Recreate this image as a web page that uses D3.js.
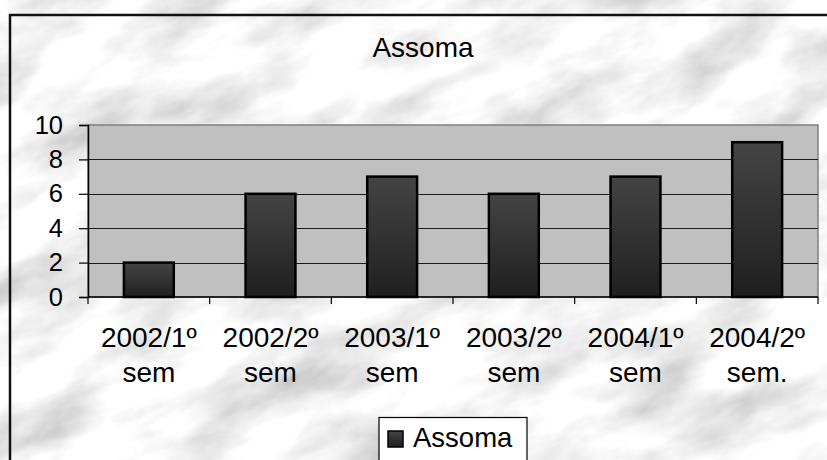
<!DOCTYPE html>
<html>
<head>
<meta charset="utf-8">
<script src="https://cdn.jsdelivr.net/npm/d3@7"></script>
<style>
    body { margin: 0; background: #fff; }
    svg { display: block; font-family: Arial, "Liberation Sans", sans-serif; }
</style>
</head>
<body>
<div id="chart-area"></div>
<script>

// DATA
// =====

var categories = ['2002/1º sem', '2002/2º sem', '2003/1º sem', '2003/2º sem', '2004/1º sem', '2004/2º sem.'];
var tickLines = [['2002/1º', 'sem'], ['2002/2º', 'sem'], ['2003/1º', 'sem'], ['2003/2º', 'sem'], ['2004/1º', 'sem'], ['2004/2º', 'sem.']];
var values = [2, 6, 7, 6, 7, 9];
var yTicks = [0, 2, 4, 6, 8, 10];
var seriesName = 'Assoma';
var chartTitle = 'Assoma';


// CANVAS
// =======

var W = 827, H = 460;
var plot = { left: 88, right: 818, top: 125, bottom: 297 };

var svg = d3.select('#chart-area')
    .append('svg')
        .attr('width', W)
        .attr('height', H);

var defs = svg.append('defs');

// marble-ish background
var f = defs.append('filter')
    .attr('id', 'marble')
    .attr('x', 0).attr('y', 0)
    .attr('width', '100%').attr('height', '100%');
f.append('feTurbulence')
    .attr('type', 'fractalNoise')
    .attr('baseFrequency', '0.009 0.02')
    .attr('numOctaves', 5)
    .attr('seed', 11);
f.append('feColorMatrix')
    .attr('type', 'matrix')
    .attr('values', '0.9 0 0 0 0.46  0.9 0 0 0 0.46  0.9 0 0 0 0.46  0 0 0 0 1');

var grad = defs.append('linearGradient')
    .attr('id', 'barGrad')
    .attr('x1', 0).attr('y1', 0)
    .attr('x2', 0).attr('y2', 1);
grad.append('stop').attr('offset', '0%').attr('stop-color', '#444');
grad.append('stop').attr('offset', '100%').attr('stop-color', '#1f1f1f');

svg.append('g')
    .attr('transform', 'rotate(-22 413 230)')
    .append('rect')
        .attr('x', -200).attr('y', -300)
        .attr('width', 1300).attr('height', 1100)
        .attr('filter', 'url(#marble)');

// chart border (right and bottom fall outside the picture)
svg.append('path')
    .attr('d', 'M10,' + (H + 5) + 'V15H' + (W + 5))
    .attr('fill', 'none')
    .attr('stroke', '#111')
    .attr('stroke-width', 2.5);


// SCALES
// =======

var x = d3.scaleBand()
    .domain(categories)
    .range([plot.left, plot.right])
    .paddingInner(0.59)
    .paddingOuter(0.295);

var xCat = d3.scaleBand()
    .domain(categories)
    .range([plot.left, plot.right]);

var y = d3.scaleLinear()
    .domain([0, 10])
    .range([plot.bottom, plot.top]);


// PLOT AREA
// ==========

svg.append('rect')
    .attr('x', plot.left)
    .attr('y', plot.top)
    .attr('width', plot.right - plot.left)
    .attr('height', plot.bottom - plot.top)
    .attr('fill', '#c0c0c0')
    .attr('stroke', '#808080')
    .attr('stroke-width', 1.5);

svg.append('g')
    .selectAll('line')
    .data(yTicks.filter(d => d > 0 && d < 10))
    .enter()
    .append('line')
        .attr('x1', plot.left)
        .attr('x2', plot.right)
        .attr('y1', d => Math.round(y(d)) + 0.5)
        .attr('y2', d => Math.round(y(d)) + 0.5)
        .attr('stroke', '#1a1a1a')
        .attr('stroke-width', 1);

// bars
svg.append('g')
    .selectAll('rect')
    .data(values)
    .enter()
    .append('rect')
        .attr('x', (d, i) => x(categories[i]))
        .attr('y', d => y(d))
        .attr('width', x.bandwidth())
        .attr('height', d => y(0) - y(d))
        .attr('fill', 'url(#barGrad)')
        .attr('stroke', '#000')
        .attr('stroke-width', 2.5);


// AXES
// =====

var yAxisCall = d3.axisLeft(y)
    .tickValues(yTicks)
    .tickSize(9)
    .tickPadding(16);
var yAxis = svg.append('g')
    .attr('transform', 'translate(' + plot.left + ',0)')
    .call(yAxisCall);
yAxis.select('.domain').attr('stroke', '#000').attr('stroke-width', 1.5);
yAxis.selectAll('.tick line').attr('stroke', '#000').attr('stroke-width', 1.2);
yAxis.selectAll('.tick text')
    .attr('font-size', '25.5px')
    .attr('font-family', 'Arial, "Liberation Sans", sans-serif')
    .attr('fill', '#000');

// x axis line + separator ticks
svg.append('line')
    .attr('x1', plot.left).attr('x2', plot.right)
    .attr('y1', plot.bottom).attr('y2', plot.bottom)
    .attr('stroke', '#000')
    .attr('stroke-width', 1.5);

svg.append('g')
    .selectAll('line')
    .data(categories.map(c => xCat(c)).concat([plot.right]))
    .enter()
    .append('line')
        .attr('x1', d => d).attr('x2', d => d)
        .attr('y1', plot.bottom).attr('y2', plot.bottom + 7)
        .attr('stroke', '#000')
        .attr('stroke-width', 1.2);

var labels = svg.append('g')
    .selectAll('text')
    .data(categories)
    .enter()
    .append('text')
        .attr('x', d => xCat(d) + xCat.bandwidth() / 2)
        .attr('y', 347)
        .attr('text-anchor', 'middle')
        .attr('font-size', '28px')
        .attr('fill', '#000');
labels.each(function (d, i) {
    var t = d3.select(this);
    tickLines[i].forEach((line, k) => {
        t.append('tspan')
            .attr('x', xCat(d) + xCat.bandwidth() / 2)
            .attr('dy', k === 0 ? 0 : 35)
            .text(line);
    });
});


// TITLE + LEGEND
// ===============

svg.append('text')
    .attr('x', 423)
    .attr('y', 57)
    .attr('text-anchor', 'middle')
    .attr('font-size', '28px')
    .attr('fill', '#000')
    .text(chartTitle);

var legend = svg.append('g');
legend.append('rect')
    .attr('x', 379).attr('y', 417.5)
    .attr('width', 148).attr('height', 60)
    .attr('fill', '#fff')
    .attr('stroke', '#000')
    .attr('stroke-width', 1.2);
legend.append('rect')
    .attr('x', 388).attr('y', 431)
    .attr('width', 15).attr('height', 16)
    .attr('fill', 'url(#barGrad)')
    .attr('stroke', '#000')
    .attr('stroke-width', 1.5);
legend.append('text')
    .attr('x', 413)
    .attr('y', 447)
    .attr('font-size', '27.5px')
    .attr('fill', '#000')
    .text(seriesName);

</script>
</body>
</html>
